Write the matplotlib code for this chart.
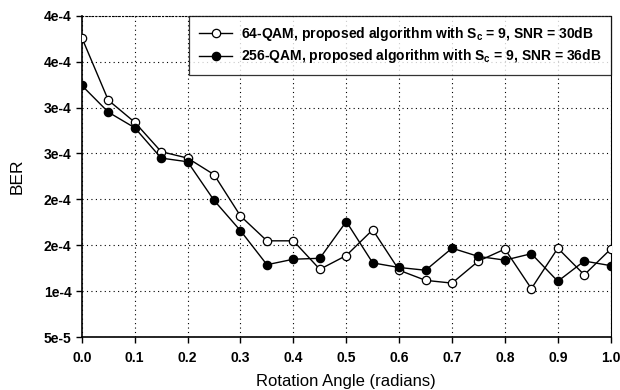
import matplotlib
matplotlib.use('Agg')
import matplotlib.pyplot as plt

plt.rcParams['font.family'] = ['Liberation Sans', 'DejaVu Sans']
plt.rcParams['mathtext.fontset'] = 'custom'
plt.rcParams['mathtext.rm'] = 'Liberation Sans'
plt.rcParams['mathtext.bf'] = 'Liberation Sans:bold'
plt.rcParams['mathtext.it'] = 'Liberation Sans'

# rotation angles and BER values
angle = [0.0, 0.05, 0.1, 0.15, 0.2, 0.25, 0.3, 0.35, 0.4, 0.45, 0.5,
         0.55, 0.6, 0.65, 0.7, 0.75, 0.8, 0.85, 0.9, 0.95, 1.0]
ber_64qam = [3.76e-4, 3.08e-4, 2.84e-4, 2.52e-4, 2.45e-4, 2.27e-4, 1.82e-4,
             1.55e-4, 1.55e-4, 1.24e-4, 1.39e-4, 1.67e-4, 1.23e-4, 1.12e-4,
             1.09e-4, 1.33e-4, 1.46e-4, 1.03e-4, 1.47e-4, 1.18e-4, 1.46e-4]
ber_256qam = [3.24e-4, 2.95e-4, 2.78e-4, 2.45e-4, 2.41e-4, 1.99e-4, 1.66e-4,
              1.29e-4, 1.35e-4, 1.36e-4, 1.76e-4, 1.31e-4, 1.26e-4, 1.23e-4,
              1.47e-4, 1.38e-4, 1.34e-4, 1.41e-4, 1.11e-4, 1.33e-4, 1.28e-4]

x_ticks = [0.0, 0.1, 0.2, 0.3, 0.4, 0.5, 0.6, 0.7, 0.8, 0.9, 1.0]
y_ticks = [5e-5, 1e-4, 1.5e-4, 2e-4, 2.5e-4, 3e-4, 3.5e-4, 4e-4]
y_labels = ['5e-5', '1e-4', '2e-4', '2e-4', '3e-4', '3e-4', '4e-4', '4e-4']

label_64 = '64-QAM, proposed algorithm with S$_\\mathbf{c}$ = 9, SNR = 30dB'
label_256 = '256-QAM, proposed algorithm with S$_\\mathbf{c}$ = 9, SNR = 36dB'

fig = plt.figure(figsize=(6.2, 3.9), dpi=100)
ax = fig.add_axes([0.132, 0.135, 0.853, 0.825])

ax.plot(angle, ber_64qam, color='black', lw=1.0, marker='o', ms=6,
        mfc='white', mec='black', mew=0.9, label=label_64, zorder=3)
ax.plot(angle, ber_256qam, color='black', lw=1.0, marker='o', ms=6,
        mfc='black', mec='black', mew=0.9, label=label_256, zorder=3)

ax.set_xlim(0, 1.0)
ax.set_ylim(5e-5, 4e-4)
ax.set_xticks(x_ticks)
ax.set_xticklabels(['%.1f' % t for t in x_ticks])
ax.set_yticks(y_ticks)
ax.set_yticklabels(y_labels)
ax.tick_params(axis='both', direction='out', length=4, width=1, labelsize=10)
ax.tick_params(axis='x', pad=6)
for lab in ax.get_xticklabels() + ax.get_yticklabels():
    lab.set_fontweight('bold')

ax.grid(True, linestyle=(0, (1, 3)), color='black', lw=0.8)
ax.spines['left'].set_linewidth(1.2)
ax.spines['bottom'].set_linewidth(1.2)
ax.spines['right'].set_linewidth(0.8)
ax.spines['top'].set_linewidth(0.8)
ax.spines['top'].set_linestyle((0, (1, 2)))

ax.set_xlabel('Rotation Angle (radians)', fontsize=12, labelpad=6)
ax.set_ylabel('BER', fontsize=12.5, labelpad=14)

leg = ax.legend(loc='upper right', frameon=True, fancybox=False,
                prop={'size': 10, 'weight': 'bold'},
                edgecolor='black', borderaxespad=0, handlelength=2.4,
                handletextpad=0.6, borderpad=0.7, labelspacing=0.3)
leg.get_frame().set_linewidth(0.9)

fig.savefig('out.png', dpi=100)
